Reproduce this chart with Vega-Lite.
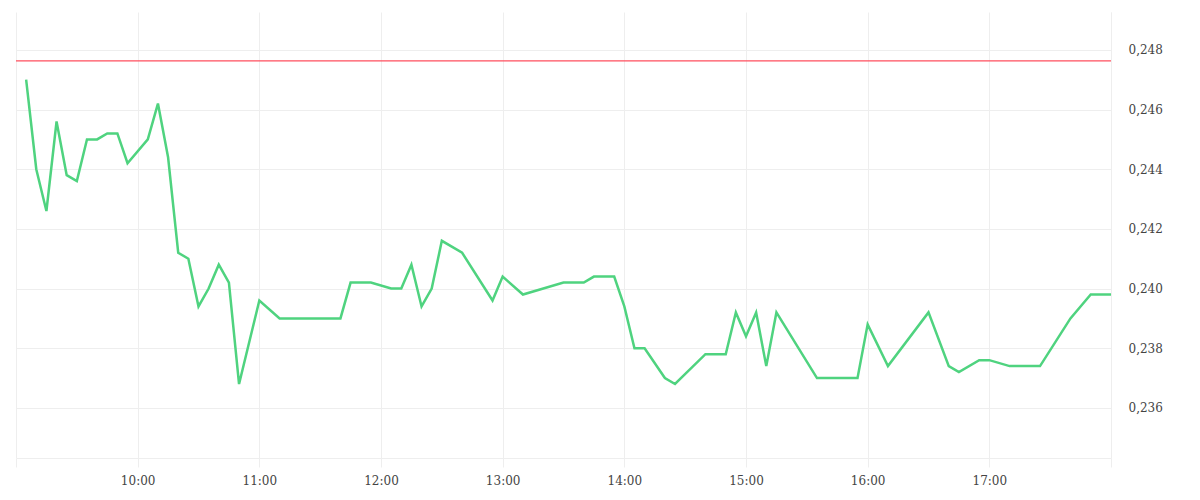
{
  "$schema": "https://vega.github.io/schema/vega-lite/v6.json",
  "width": 1095,
  "height": 446,
  "padding": {"left": 15, "top": 12, "right": 0, "bottom": 0},
  "config": {
    "view": {"stroke": null},
    "font": "DejaVu Serif",
    "axis": {
      "labelFont": "DejaVu Serif",
      "labelFontSize": 12,
      "labelColor": "#444444",
      "gridColor": "#eeeeee",
      "domainColor": "#eeeeee",
      "tickColor": "#eeeeee",
      "title": null
    }
  },
  "layer": [
    {
      "data": {
        "values": [
          {"time": "2024-01-02T09:05:00", "price": 0.2470},
          {"time": "2024-01-02T09:10:00", "price": 0.2440},
          {"time": "2024-01-02T09:15:00", "price": 0.2426},
          {"time": "2024-01-02T09:20:00", "price": 0.2456},
          {"time": "2024-01-02T09:25:00", "price": 0.2438},
          {"time": "2024-01-02T09:30:00", "price": 0.2436},
          {"time": "2024-01-02T09:35:00", "price": 0.2450},
          {"time": "2024-01-02T09:40:00", "price": 0.2450},
          {"time": "2024-01-02T09:45:00", "price": 0.2452},
          {"time": "2024-01-02T09:50:00", "price": 0.2452},
          {"time": "2024-01-02T09:55:00", "price": 0.2442},
          {"time": "2024-01-02T10:05:00", "price": 0.2450},
          {"time": "2024-01-02T10:10:00", "price": 0.2462},
          {"time": "2024-01-02T10:15:00", "price": 0.2444},
          {"time": "2024-01-02T10:20:00", "price": 0.2412},
          {"time": "2024-01-02T10:25:00", "price": 0.2410},
          {"time": "2024-01-02T10:30:00", "price": 0.2394},
          {"time": "2024-01-02T10:35:00", "price": 0.2400},
          {"time": "2024-01-02T10:40:00", "price": 0.2408},
          {"time": "2024-01-02T10:45:00", "price": 0.2402},
          {"time": "2024-01-02T10:50:00", "price": 0.2368},
          {"time": "2024-01-02T11:00:00", "price": 0.2396},
          {"time": "2024-01-02T11:10:00", "price": 0.2390},
          {"time": "2024-01-02T11:40:00", "price": 0.2390},
          {"time": "2024-01-02T11:45:00", "price": 0.2402},
          {"time": "2024-01-02T11:55:00", "price": 0.2402},
          {"time": "2024-01-02T12:05:00", "price": 0.2400},
          {"time": "2024-01-02T12:10:00", "price": 0.2400},
          {"time": "2024-01-02T12:15:00", "price": 0.2408},
          {"time": "2024-01-02T12:20:00", "price": 0.2394},
          {"time": "2024-01-02T12:25:00", "price": 0.2400},
          {"time": "2024-01-02T12:30:00", "price": 0.2416},
          {"time": "2024-01-02T12:40:00", "price": 0.2412},
          {"time": "2024-01-02T12:55:00", "price": 0.2396},
          {"time": "2024-01-02T13:00:00", "price": 0.2404},
          {"time": "2024-01-02T13:10:00", "price": 0.2398},
          {"time": "2024-01-02T13:30:00", "price": 0.2402},
          {"time": "2024-01-02T13:40:00", "price": 0.2402},
          {"time": "2024-01-02T13:45:00", "price": 0.2404},
          {"time": "2024-01-02T13:55:00", "price": 0.2404},
          {"time": "2024-01-02T14:00:00", "price": 0.2394},
          {"time": "2024-01-02T14:05:00", "price": 0.2380},
          {"time": "2024-01-02T14:10:00", "price": 0.2380},
          {"time": "2024-01-02T14:20:00", "price": 0.2370},
          {"time": "2024-01-02T14:25:00", "price": 0.2368},
          {"time": "2024-01-02T14:40:00", "price": 0.2378},
          {"time": "2024-01-02T14:50:00", "price": 0.2378},
          {"time": "2024-01-02T14:55:00", "price": 0.2392},
          {"time": "2024-01-02T15:00:00", "price": 0.2384},
          {"time": "2024-01-02T15:05:00", "price": 0.2392},
          {"time": "2024-01-02T15:10:00", "price": 0.2374},
          {"time": "2024-01-02T15:15:00", "price": 0.2392},
          {"time": "2024-01-02T15:35:00", "price": 0.2370},
          {"time": "2024-01-02T15:55:00", "price": 0.2370},
          {"time": "2024-01-02T16:00:00", "price": 0.2388},
          {"time": "2024-01-02T16:10:00", "price": 0.2374},
          {"time": "2024-01-02T16:30:00", "price": 0.2392},
          {"time": "2024-01-02T16:40:00", "price": 0.2374},
          {"time": "2024-01-02T16:45:00", "price": 0.2372},
          {"time": "2024-01-02T16:55:00", "price": 0.2376},
          {"time": "2024-01-02T17:00:00", "price": 0.2376},
          {"time": "2024-01-02T17:10:00", "price": 0.2374},
          {"time": "2024-01-02T17:25:00", "price": 0.2374},
          {"time": "2024-01-02T17:40:00", "price": 0.2390},
          {"time": "2024-01-02T17:50:00", "price": 0.2398},
          {"time": "2024-01-02T18:00:00", "price": 0.2398}
        ]
      },
      "mark": {"type": "line", "color": "#4fd37f", "strokeWidth": 2.5, "strokeJoin": "miter"},
      "encoding": {
        "x": {
          "field": "time",
          "type": "temporal",
          "scale": {
            "domain": [
              {"year": 2024, "month": 1, "date": 2, "hours": 9},
              {"year": 2024, "month": 1, "date": 2, "hours": 18}
            ],
            "nice": false
          },
          "axis": {
            "values": [
              {"year": 2024, "month": 1, "date": 2, "hours": 9},
              {"year": 2024, "month": 1, "date": 2, "hours": 10},
              {"year": 2024, "month": 1, "date": 2, "hours": 11},
              {"year": 2024, "month": 1, "date": 2, "hours": 12},
              {"year": 2024, "month": 1, "date": 2, "hours": 13},
              {"year": 2024, "month": 1, "date": 2, "hours": 14},
              {"year": 2024, "month": 1, "date": 2, "hours": 15},
              {"year": 2024, "month": 1, "date": 2, "hours": 16},
              {"year": 2024, "month": 1, "date": 2, "hours": 17},
              {"year": 2024, "month": 1, "date": 2, "hours": 18}
            ],
            "labelExpr": "hours(datum.value) == 9 || hours(datum.value) == 18 ? '' : timeFormat(datum.value, '%H:%M')",
            "tickSize": 9,
            "labelPadding": 8,
            "labelOverlap": false,
            "labelFlush": false
          }
        },
        "y": {
          "field": "price",
          "type": "quantitative",
          "scale": {"domain": [0.23432, 0.24927], "nice": false, "zero": false},
          "axis": {
            "orient": "right",
            "values": [0.236, 0.238, 0.24, 0.242, 0.244, 0.246, 0.248],
            "labelExpr": "replace(format(datum.value, '.3f'), '.', ',')",
            "ticks": false,
            "labelPadding": 17
          }
        }
      }
    },
    {
      "data": {"values": [{"reference": 0.24763}]},
      "mark": {"type": "rule", "color": "#ff4f5e", "strokeWidth": 1.3},
      "encoding": {
        "y": {"field": "reference", "type": "quantitative"}
      }
    }
  ]
}
